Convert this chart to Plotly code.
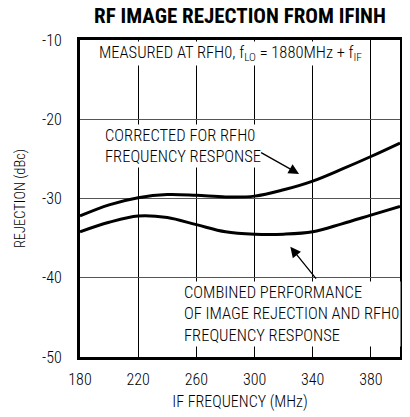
import plotly.graph_objects as go

freq = [180, 200, 220, 240, 260, 280, 300, 320, 340, 360, 380, 400]
corrected = [-32.2, -30.8, -29.9, -29.5, -29.6, -29.8, -29.7, -28.9, -27.8, -26.3, -24.7, -23.0]
combined = [-34.2, -33.0, -32.2, -32.4, -33.3, -34.2, -34.5, -34.5, -34.2, -33.2, -32.1, -31.0]

x_ticks = [180, 220, 260, 300, 340, 380]
y_ticks = [-50, -40, -30, -20, -10]

FONT = "Roboto Condensed, Liberation Sans, sans-serif"

fig = go.Figure()
for ys in (corrected, combined):
    fig.add_trace(go.Scatter(x=freq, y=ys, mode="lines",
                             line=dict(color="black", width=3, shape="spline", smoothing=1.0),
                             showlegend=False, hoverinfo="skip"))

fig.update_layout(
    width=402, height=409,
    margin=dict(l=72, r=10, t=32, b=60, autoexpand=False),
    paper_bgcolor="white", plot_bgcolor="white",
    font=dict(family=FONT, size=16, color="black", weight=300),
    title=dict(text="<b>RF IMAGE REJECTION FROM IFINH</b>", x=0.577, xanchor="center",
               y=0.9804, yanchor="middle", font=dict(family=FONT, size=21, color="black", weight=700)),
)
fig.update_xaxes(range=[180, 400], tickvals=x_ticks, ticktext=[str(v) for v in x_ticks],
                 showgrid=True, gridcolor="black", gridwidth=1,
                 showline=True, linecolor="black", linewidth=3, mirror=True,
                 ticks="", zeroline=False, tickfont=dict(size=16), ticklabelstandoff=6,
                 automargin=False,
                 title=dict(text="IF FREQUENCY (MHz)", font=dict(family=FONT, size=16), standoff=8))
fig.update_yaxes(range=[-50, -10], tickvals=y_ticks, ticktext=[str(v) for v in y_ticks],
                 showgrid=True, gridcolor="#555555", gridwidth=1,
                 showline=True, linecolor="black", linewidth=3, mirror=True,
                 ticks="", zeroline=False, tickfont=dict(size=16), ticklabelstandoff=12,
                 automargin=False,
                 title=dict(text="REJECTION (dBc)", font=dict(family=FONT, size=14.5), standoff=14))

fig.add_annotation(x=0.052, y=-11.65, xref="paper", yref="y", xanchor="left", yanchor="middle",
                   text="MEASURED AT RFH0, f<sub>LO</sub> = 1880MHz + f<sub>IF</sub>",
                   showarrow=False, bgcolor="white", font=dict(family=FONT, size=16.5))
fig.add_annotation(x=0.071, y=-23.4, xref="paper", yref="y", xanchor="left", yanchor="middle",
                   text="CORRECTED FOR RFH0<br>FREQUENCY RESPONSE", align="left",
                   showarrow=False, bgcolor="white", font=dict(family=FONT, size=16.5))
fig.add_annotation(x=0.318, y=-44.55, xref="paper", yref="y", xanchor="left", yanchor="middle",
                   text="COMBINED PERFORMANCE<br>OF IMAGE REJECTION AND RFH0<br>FREQUENCY RESPONSE",
                   align="left", showarrow=False, bgcolor="white", font=dict(family=FONT, size=16.5))
# arrows
fig.add_annotation(x=330.6, y=-26.9, ax=303.5, ay=-24.1, xref="x", yref="y", axref="x", ayref="y",
                   text="", showarrow=True, arrowhead=2, arrowsize=1.6, arrowwidth=1.3, arrowcolor="black")
fig.add_annotation(x=324.6, y=-36.1, ax=343.1, ay=-40.3, xref="x", yref="y", axref="x", ayref="y",
                   text="", showarrow=True, arrowhead=2, arrowsize=1.6, arrowwidth=1.3, arrowcolor="black")
fig.add_annotation(x=1.0, y=1.0, xref="paper", yref="paper", xanchor="left", yanchor="top",
                   xshift=0, borderpad=0, text="MAX2361 toc07", textangle=-90, showarrow=False,
                   font=dict(family=FONT, size=8, color="#777777"))

fig.write_html("out.html")
